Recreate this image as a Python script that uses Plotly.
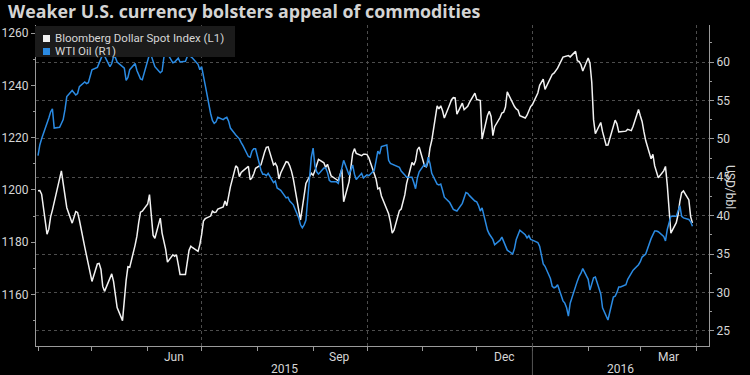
import plotly.graph_objects as go
import pandas as pd

title_text = "Weaker U.S. currency bolsters appeal of commodities"
series_names = ["Bloomberg Dollar Spot Index (L1)", "WTI Oil (R1)"]
right_axis_title = "USD/bbl"

# Business days, Wed 2015-04-01 .. Wed 2016-03-30 (261 days)
dates = pd.bdate_range("2015-04-01", "2016-03-30")

dollar_index = [
    1199.7, 1199.8, 1198.4, 1183.1, 1185.0,
    1189.7, 1192.3, 1195.4, 1204.6, 1207.3,
    1202.5, 1197.8, 1193.2, 1187.3, 1190.0,
    1191.7, 1191.4, 1188.5, 1178.1, 1175.0,
    1171.5, 1167.5, 1165.0, 1171.7, 1171.9,
    1169.6, 1163.1, 1161.2, 1166.2, 1167.9,
    1165.0, 1160.4, 1155.0, 1150.0, 1158.5,
    1165.4, 1170.6, 1170.4, 1178.9, 1182.3,
    1187.5, 1191.5, 1191.9, 1194.6, 1198.2,
    1188.9, 1182.7, 1181.5, 1189.2, 1183.5,
    1180.2, 1177.3, 1172.4, 1175.2, 1174.6,
    1175.2, 1171.5, 1167.7, 1167.7, 1171.7,
    1176.9, 1178.5, 1177.9, 1176.5, 1179.1,
    1182.9, 1188.1, 1189.0, 1190.0, 1191.9,
    1191.4, 1191.5, 1192.7, 1193.5, 1195.8,
    1194.0, 1197.4, 1201.2, 1209.2, 1208.5,
    1205.1, 1206.7, 1207.3, 1209.0, 1203.9,
    1204.6, 1206.2, 1208.3, 1209.6, 1212.4,
    1214.4, 1216.3, 1216.5, 1209.6, 1210.2,
    1208.9, 1204.2, 1206.5, 1210.8, 1210.6,
    1209.2, 1207.1, 1204.2, 1192.3, 1188.5,
    1193.1, 1198.1, 1202.5, 1206.4, 1205.6,
    1207.3, 1209.8, 1211.7, 1210.4, 1208.6,
    1209.8, 1207.7, 1205.4, 1204.0, 1203.5,
    1205.8, 1207.9, 1195.5, 1203.1, 1208.5,
    1213.9, 1215.8, 1214.0, 1213.1, 1213.7,
    1213.7, 1213.5, 1212.3, 1206.5, 1204.2,
    1200.4, 1200.8, 1197.7, 1192.0, 1190.9,
    1187.8, 1183.5, 1184.6, 1192.1, 1192.7,
    1195.1, 1198.1, 1202.4, 1210.5, 1209.5,
    1211.2, 1215.4, 1216.4, 1209.2, 1208.9,
    1210.9, 1216.0, 1218.9, 1232.2, 1231.0,
    1232.2, 1230.3, 1227.5, 1232.7, 1234.5,
    1235.3, 1235.2, 1229.0, 1233.2, 1230.7,
    1231.3, 1232.0, 1233.5, 1237.0, 1234.6,
    1234.5, 1234.2, 1219.5, 1228.5, 1230.1,
    1228.1, 1220.8, 1224.2, 1227.7, 1229.4,
    1229.7, 1231.7, 1237.5, 1232.9, 1231.9,
    1231.0, 1230.5, 1228.4, 1227.5, 1228.6,
    1230.4, 1231.9, 1232.7, 1237.1, 1240.0,
    1241.5, 1242.4, 1238.5, 1243.3, 1244.2,
    1244.7, 1245.5, 1246.6, 1250.8, 1251.0,
    1251.2, 1251.4, 1250.9, 1253.0, 1249.4,
    1249.1, 1247.9, 1245.5, 1250.5, 1248.5,
    1241.2, 1226.9, 1221.5, 1225.8, 1222.3,
    1219.5, 1217.1, 1217.2, 1224.0, 1226.7,
    1225.3, 1222.2, 1222.3, 1222.5, 1223.2,
    1223.0, 1222.7, 1224.4, 1230.8, 1228.4,
    1226.2, 1222.3, 1218.9, 1211.9, 1213.6,
    1209.2, 1207.0, 1204.7, 1207.3, 1209.0,
    1201.9, 1192.3, 1183.5, 1187.5, 1190.5,
    1195.5, 1199.0, 1199.6, 1196.2, 1189.8,
    1187.4,
]

wti_oil = [
    47.8, 49.2, 50.0, 51.9, 52.7,
    53.5, 53.9, 51.4, 51.5, 52.0,
    52.5, 53.8, 55.5, 56.3, 56.0,
    55.7, 55.9, 56.8, 57.4, 57.2,
    57.3, 58.1, 59.0, 59.3, 59.8,
    60.4, 61.0, 60.8, 59.4, 59.8,
    60.7, 60.6, 60.0, 59.4, 59.2,
    57.6, 58.0, 59.0, 59.8, 58.9,
    58.2, 57.8, 57.7, 60.3, 61.0,
    60.8, 60.1, 59.4, 58.6, 58.8,
    60.6, 61.2, 61.1, 59.9, 60.0,
    60.2, 60.5, 60.0, 60.1, 60.7,
    61.0, 60.7, 60.5, 59.7, 59.0,
    59.4, 58.4, 57.0, 53.3, 52.4,
    52.0, 52.2, 52.8, 52.5, 52.7,
    52.8, 52.3, 51.4, 50.5, 50.3,
    50.0, 49.5, 49.1, 47.7, 47.6,
    48.4, 48.7, 48.7, 45.9, 45.4,
    45.4, 45.2, 45.5, 44.3, 44.5,
    43.6, 43.4, 43.3, 42.3, 42.4,
    41.9, 41.6, 41.4, 39.7, 38.8,
    38.4, 38.8, 39.4, 47.6, 48.8,
    46.5, 45.7, 45.4, 46.2, 46.2,
    45.6, 44.6, 44.4, 44.4, 44.2,
    45.1, 46.1, 47.2, 45.3, 45.9,
    46.6, 45.4, 44.7, 45.5, 44.9,
    45.1, 45.3, 45.2, 45.9, 47.1,
    48.4, 48.0, 49.0, 49.2, 47.2,
    46.8, 46.7, 46.5, 46.3, 45.8,
    45.6, 45.3, 45.0, 45.0, 44.3,
    43.5, 44.9, 45.7, 46.7, 46.3,
    47.6, 46.8, 45.5, 44.1, 44.0,
    44.1, 43.3, 42.4, 41.7, 41.2,
    40.8, 40.7, 40.6, 41.6, 42.3,
    43.0, 42.9, 42.6, 41.9, 41.8,
    41.3, 40.6, 41.0, 38.1, 37.6,
    37.3, 36.9, 36.2, 36.8, 37.2,
    36.6, 35.9, 35.5, 35.0, 35.7,
    36.9, 37.6, 38.1, 37.5, 37.1,
    37.4, 36.9, 36.8, 36.5, 36.0,
    34.9, 33.7, 33.4, 31.8, 30.8,
    30.6, 30.7, 31.0, 28.9, 28.6,
    28.0, 26.9, 28.6, 31.0, 31.5,
    32.1, 32.5, 33.1, 31.7, 30.3,
    31.1, 31.9, 32.0, 29.8, 28.0,
    27.5, 27.1, 26.4, 29.4, 29.5,
    30.0, 30.7, 30.7, 31.0, 31.7,
    32.1, 32.5, 32.9, 33.6, 34.0,
    34.6, 34.8, 35.0, 37.0, 37.5,
    38.0, 38.0, 37.9, 37.3, 36.7,
    38.2, 39.2, 39.9, 39.9, 40.5,
    41.3, 39.9, 39.7, 39.5, 39.2,
    38.6,
]

month_ticks = pd.date_range("2015-04-01", "2016-04-01", freq="MS")
quarter_ticks = ["2015-07-01", "2015-10-01", "2016-01-01", "2016-04-01"]
month_labels = ["Jun", "Sep", "Dec", "Mar"]
month_label_dates = ["2015-06-15 12:00", "2015-09-15 12:00", "2015-12-16 12:00", "2016-03-16 12:00"]
year_labels = ["2015", "2016"]
year_label_dates = ["2015-08-16", "2016-02-19"]
year_break = "2016-01-01"

WHITE = "#f2f2f2"
BLUE = "#2b8be3"
TXT = "#d6d6d6"
AX = "#9a9a9a"
GRID = "#4d4d4d"
FONT = "Roboto, Open Sans, sans-serif"

fig = go.Figure()
fig.add_trace(go.Scatter(x=dates, y=dollar_index, mode="lines", name=series_names[0],
                         line=dict(color=WHITE, width=1.5), yaxis="y", showlegend=False))
fig.add_trace(go.Scatter(x=dates, y=wti_oil, mode="lines", name=series_names[1],
                         line=dict(color=BLUE, width=1.5), yaxis="y2", showlegend=False))

W, H = 750, 375
L, R, T, B = 36, 41, 25, 29
pw, ph = W - L - R, H - T - B

def px(x):
    return (x - L) / pw

def py(y):
    return 1 - (y - T) / ph

annotations = []
for lab, d in zip(month_labels, month_label_dates):
    annotations.append(dict(x=d, xref="x", y=0, yref="paper", yanchor="top", yshift=-2,
                            text=lab, showarrow=False, font=dict(family=FONT, size=12, color=TXT)))
for lab, d in zip(year_labels, year_label_dates):
    annotations.append(dict(x=d, xref="x", y=0, yref="paper", yanchor="top", yshift=-13.5,
                            text=lab, showarrow=False, font=dict(family=FONT, size=12, color=TXT)))
annotations.append(dict(x=px(739), xref="paper", y=py(187), yref="paper", text=right_axis_title,
                        textangle=90, showarrow=False, font=dict(family=FONT, size=12, color=TXT)))
annotations.append(dict(x=px(53), xref="paper", y=py(38), yref="paper", xanchor="left", yanchor="middle",
                        text=series_names[0], showarrow=False, font=dict(family=FONT, size=11.5, color=TXT)))
annotations.append(dict(x=px(53), xref="paper", y=py(51), yref="paper", xanchor="left", yanchor="middle",
                        text=series_names[1], showarrow=False, font=dict(family=FONT, size=11.5, color=TXT)))

shapes = [
    dict(type="rect", xref="paper", yref="paper", x0=px(35), x1=px(235), y0=py(57), y1=py(26),
         fillcolor="#1b1b1b", line=dict(width=0), layer="above"),
    dict(type="rect", xref="paper", yref="paper", x0=px(43), x1=px(50), y0=py(42), y1=py(35),
         fillcolor=WHITE, line=dict(width=0), layer="above"),
    dict(type="rect", xref="paper", yref="paper", x0=px(43), x1=px(50), y0=py(55), y1=py(48),
         fillcolor=BLUE, line=dict(width=0), layer="above"),
    dict(type="line", xref="x", yref="paper", x0=year_break, x1=year_break, y0=-B / ph, y1=0,
         line=dict(color="#555555", width=1)),
]

fig.update_layout(
    width=W, height=H,
    margin=dict(l=L, r=R, t=T, b=B, autoexpand=False),
    paper_bgcolor="black", plot_bgcolor="black",
    title=dict(text="<b>" + title_text + "</b>", x=8 / W, xanchor="left", xref="container",
               y=1 - 12 / H, yanchor="middle", yref="container",
               font=dict(family="Open Sans, sans-serif", size=17.8, color="#d4d4d4")),
    showlegend=False,
    annotations=annotations,
    shapes=shapes,
    xaxis=dict(
        type="date", range=["2015-03-30 21:00", "2016-04-08 05:00"], automargin=False,
        tickmode="array", tickvals=quarter_ticks, ticktext=[""] * len(quarter_ticks),
        ticks="outside", ticklen=4, tickcolor=AX,
        showgrid=True, gridcolor=GRID, griddash="dot", gridwidth=1,
        showline=True, linecolor=AX, linewidth=1, zeroline=False,
        minor=dict(tickmode="array", tickvals=list(month_ticks), ticks="outside", ticklen=4,
                   tickcolor=AX, showgrid=False),
    ),
    yaxis=dict(
        range=[1140.3, 1263.1], tick0=1160, dtick=20, side="left", automargin=False,
        ticks="outside", ticklen=4, tickcolor=AX,
        tickfont=dict(family=FONT, size=12, color=TXT),
        showgrid=False, zeroline=False, showline=True, linecolor=AX, linewidth=1,
        minor=dict(dtick=10, tick0=1160, ticks="outside", ticklen=2, tickcolor=AX, showgrid=False),
    ),
    yaxis2=dict(
        range=[23.02, 64.82], tick0=25, dtick=5, side="right", overlaying="y", automargin=False,
        ticks="outside", ticklen=4, tickcolor=AX,
        tickfont=dict(family=FONT, size=12, color=TXT),
        showgrid=True, gridcolor=GRID, griddash="dot", gridwidth=1,
        zeroline=False, showline=True, linecolor=AX, linewidth=1,
        minor=dict(dtick=2.5, tick0=25, ticks="outside", ticklen=2, tickcolor=AX, showgrid=False),
    ),
)

fig.write_html("out.html", config={"displayModeBar": False},
               post_script="document.body.style.margin='0';document.body.style.background='black';")
